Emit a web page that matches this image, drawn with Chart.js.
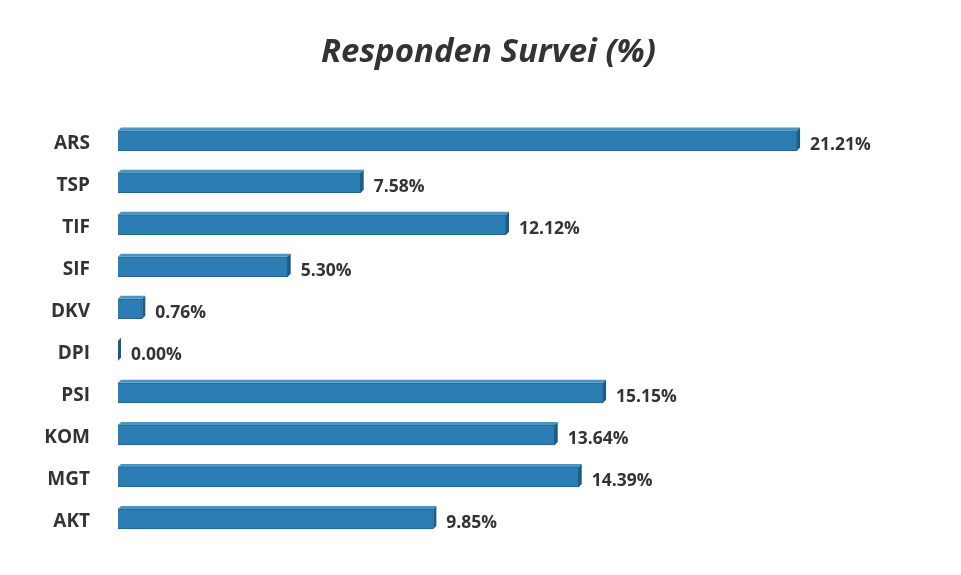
<!DOCTYPE html>
<html><head><meta charset="utf-8">
<script src="https://cdn.jsdelivr.net/npm/chart.js@4"></script>
<style>html,body{margin:0;padding:0;background:#fff}#wrap{width:961px;height:575px;position:relative}</style>
</head><body><div id="wrap"><canvas id="c"></canvas></div>
<script>
const categories = ["ARS","TSP","TIF","SIF","DKV","DPI","PSI","KOM","MGT","AKT"];
const values = [21.21,7.58,12.12,5.30,0.76,0.00,15.15,13.64,14.39,9.85];
const valueLabels = ["21.21%","7.58%","12.12%","5.30%","0.76%","0.00%","15.15%","13.64%","14.39%","9.85%"];
const titleText = "Responden Survei (%)";

const D = 3;
const bar3d = {
  id:'bar3d',
  afterDatasetsDraw(chart){
    const ctx = chart.ctx;
    const meta = chart.getDatasetMeta(0);
    meta.data.forEach((el,i)=>{
      const p = el.getProps(['x','y','base','height'],true);
      const top = p.y - p.height/2, bot = p.y + p.height/2;
      ctx.save();
      ctx.fillStyle = '#4b95c4';
      ctx.beginPath();
      ctx.moveTo(p.base, top); ctx.lineTo(p.base+D, top-D); ctx.lineTo(p.x+D, top-D); ctx.lineTo(p.x, top); ctx.closePath(); ctx.fill();
      ctx.fillStyle = '#1d5a86';
      ctx.beginPath();
      ctx.moveTo(p.x, top); ctx.lineTo(p.x+D, top-D); ctx.lineTo(p.x+D, bot-D); ctx.lineTo(p.x, bot); ctx.closePath(); ctx.fill();
      ctx.fillStyle = '#333';
      ctx.font = 'bold 17.5px "Open Sans", sans-serif';
      ctx.textBaseline = 'middle';
      ctx.textAlign = 'left';
      ctx.fillText(valueLabels[i], p.x + D + 10, p.y + 4);
      ctx.restore();
    });
  }
};

new Chart(document.getElementById('c'), {
  type:'bar',
  data:{labels:categories, datasets:[{data:values, backgroundColor:'#2b7db3', borderColor:'#22628f', borderWidth:1, barThickness:20}]},
  options:{
    indexAxis:'y', responsive:true, maintainAspectRatio:false, animation:false,
    layout:{padding:{left:16,right:0,top:0,bottom:35}},
    plugins:{
      legend:{display:false}, tooltip:{enabled:false},
      title:{display:true, text:titleText, color:'#333', font:{family:'"Open Sans", sans-serif', size:33, weight:'bold', style:'italic'}, padding:{top:33,bottom:47}}
    },
    scales:{
      x:{display:false, min:0, max:26.33},
      y:{grid:{display:false}, border:{display:false},
         ticks:{color:'#333', padding:20, labelOffset:3, font:{family:'"Open Sans", sans-serif', size:19, weight:'bold'}},
         afterFit(s){ s.width = 102; }}
    }
  },
  plugins:[bar3d]
});
</script></body></html>
